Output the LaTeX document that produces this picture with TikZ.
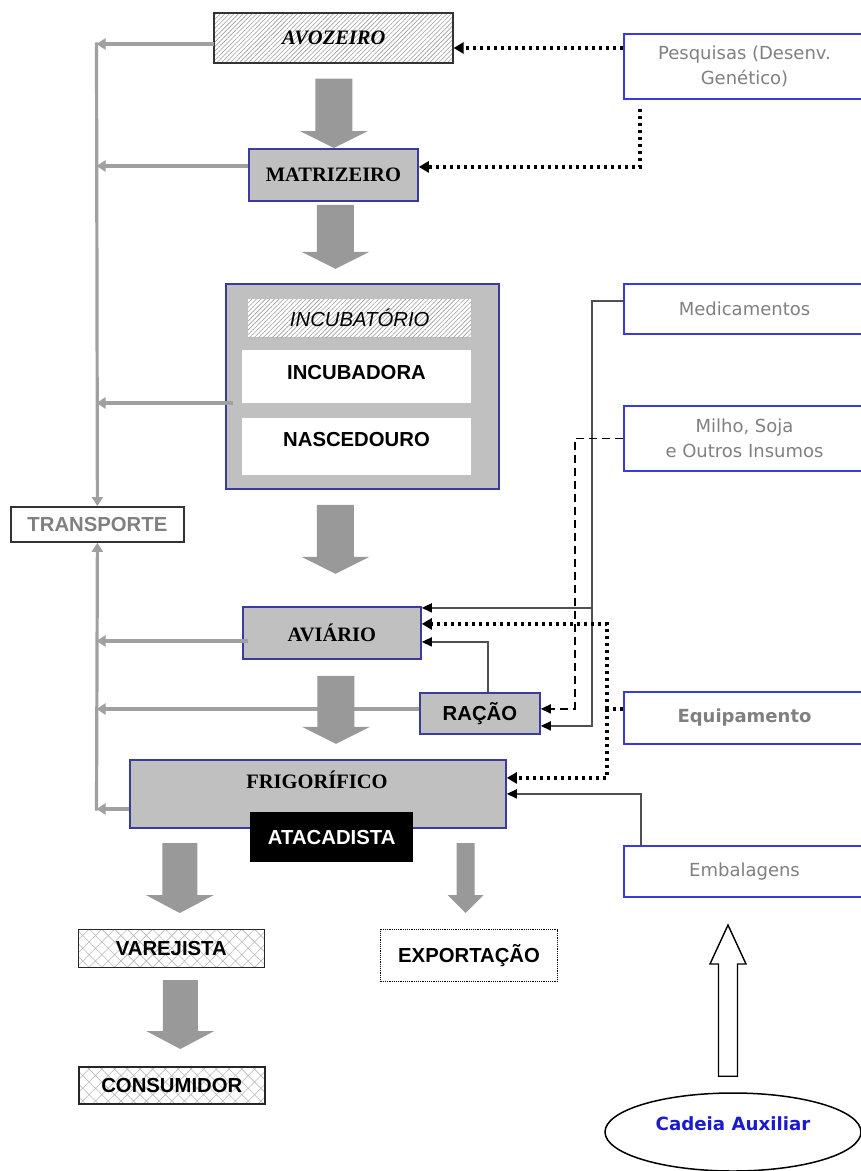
\documentclass[tikz,border=0pt]{standalone}
\usepackage{fontspec}
\setmainfont{Liberation Serif}
\newfontfamily\arialf{Liberation Sans}
\newfontfamily\tahomaf{DejaVu Sans}
\usetikzlibrary{arrows.meta,patterns,patterns.meta,shapes.geometric,calc}
\definecolor{boxgray}{HTML}{C0C0C0}
\definecolor{bigarrowgray}{HTML}{999999}
\definecolor{linegray}{HTML}{A0A0A0}
\definecolor{darkblue}{HTML}{3A3AA0}
\definecolor{brightblue}{HTML}{3A3ADC}
\definecolor{txtgray}{HTML}{808080}
\definecolor{connline}{HTML}{505050}
\definecolor{auxblue}{HTML}{1A1AD0}
% #1 start, #2 tip, #3 half shaft, #4 half head, #5 head length
\newcommand\blockarrow[5]{%
  \fill[bigarrowgray] let \p1=(#1), \p2=(#2) in
   (\x1-#3pt,\y1) -- (\x1-#3pt,\y2+#5pt) -- (\x1-#4pt,\y2+#5pt) -- (\x1,\y2)
   -- (\x1+#4pt,\y2+#5pt) -- (\x1+#3pt,\y2+#5pt) -- (\x1+#3pt,\y1) -- cycle;}
\begin{document}
\begin{tikzpicture}[x=1pt,y=-1pt,
  graybox/.style={draw=darkblue, fill=boxgray, line width=1.8pt, inner sep=0pt, anchor=north west},
  auxbox/.style={draw=brightblue, fill=white, line width=2pt, inner sep=0pt, anchor=north west,
     text=txtgray, font=\tahomaf\fontsize{18}{25}\selectfont, align=center},
  serifb/.style={font=\fontsize{20.5}{24}\selectfont\bfseries},
  sansb/.style={font=\arialf\fontsize{20.3}{24}\selectfont\bfseries},
  grayarrow/.style={draw=linegray, line width=3.2pt, -{Triangle[width=11pt,length=9pt]}},
  thinarrow/.style={draw=connline, line width=1.6pt, -{Triangle[width=9pt,length=10pt,color=black]}},
  dasharrow/.style={draw=black, line width=1.6pt, dash pattern=on 8pt off 5pt, -{Triangle[width=9pt,length=10pt]}},
  dotline/.style={draw=black, line width=3.2pt, dash pattern=on 3.2pt off 3.8pt},
  dotarrow/.style={dotline, -{Triangle[width=11pt,length=10pt]}},
  finehatch/.style={preaction={fill=white}, pattern={Lines[angle=45,distance=3.2pt,line width=0.6pt]}, pattern color=gray!75},
  crosshatch/.style={preaction={fill=white}, pattern={Hatch[angle=45,distance=9pt,line width=0.6pt]}, pattern color=gray!55}
]
\useasboundingbox (0,0) rectangle (861,1171);
\fill[white] (0,0) rectangle (861,1171);

% ---------- main chain boxes
\node[anchor=north west, draw=black!80, line width=1.8pt, finehatch, minimum width=239, minimum height=50, inner sep=0pt,
      font=\fontsize{20.5}{24}\selectfont\bfseries\itshape] (avo) at (214,13) {AVOZEIRO};
\node[graybox, serifb, minimum width=169, minimum height=52] (matr) at (248,148) {MATRIZEIRO};
\node[graybox, minimum width=273, minimum height=205] (incub) at (225,283) {};
\node[anchor=north west, finehatch, minimum width=223, minimum height=38, inner sep=0pt,
      font=\arialf\fontsize{20.3}{24}\selectfont\itshape] (incubt) at (248,299) {INCUBATÓRIO};
\node[anchor=north west, fill=white, minimum width=229, minimum height=53, inner sep=0pt] (incubd) at (242,350) {};
\node[sansb] (incubdt) at (356.5,373) {INCUBADORA};
\node[anchor=north west, fill=white, minimum width=229, minimum height=57, inner sep=0pt] (nasc) at (242,418) {};
\node[sansb] (nasct) at (356.5,440) {NASCEDOURO};
\node[anchor=north west, draw=black!80, line width=1.8pt, fill=white, minimum width=173, minimum height=35, inner sep=0pt,
      sansb, text=txtgray] (trans) at (10,506) {TRANSPORTE};
\node[graybox, serifb, minimum width=178, minimum height=52] (avi) at (242,606) {AVIÁRIO};
\node[graybox, sansb, minimum width=120, minimum height=41] (racao) at (419,692) {RAÇÃO};
\node[graybox, minimum width=376, minimum height=68] (frig) at (129,759) {};
\node[serifb] (frigt) at (317,780) {FRIGORÍFICO};
\node[anchor=north west, fill=black, text=white, sansb, minimum width=163, minimum height=50, inner sep=0pt] (atac) at (250,812) {ATACADISTA};
\node[anchor=north west, draw=black!85, line width=1.6pt, crosshatch, sansb, minimum width=186, minimum height=38, inner sep=0pt] (varej) at (78,929) {VAREJISTA};
\node[anchor=north west, draw=black!85, line width=1.6pt, crosshatch, sansb, minimum width=186, minimum height=37, inner sep=0pt] (consum) at (78,1066) {CONSUMIDOR};
\node[anchor=north west, draw=black, line width=1.1pt, dash pattern=on 1.2pt off 1pt, fill=white, sansb,
      minimum width=177, minimum height=52, inner sep=0pt] (export) at (380,929) {EXPORTAÇÃO};

% ---------- auxiliary chain boxes
\node[auxbox, minimum width=241, minimum height=65] (pesq) at (623,33) {Pesquisas (Desenv.\\Genético)};
\node[auxbox, minimum width=241, minimum height=50] (med) at (623,283) {Medicamentos};
\node[auxbox, minimum width=241, minimum height=65] (milho) at (623,405) {Milho, Soja\\e Outros Insumos};
\node[auxbox, minimum width=241, minimum height=52, font=\tahomaf\bfseries\fontsize{18}{22}\selectfont] (equip) at (623,691) {Equipamento};
\node[auxbox, minimum width=241, minimum height=51] (emb) at (623,845) {Embalagens};
\node[ellipse, draw=black, line width=1.5pt, fill=white, minimum width=256, minimum height=78, inner sep=0pt] (cad) at (733,1132) {};
\node[font=\tahomaf\bfseries\fontsize{18.2}{22}\selectfont, text=auxblue] (cadt) at (733,1124) {Cadeia Auxiliar};

% ---------- transport trunk
\coordinate (j1) at (96.5,44);
\coordinate (j2) at (96.5,166);
\coordinate (j3) at (96.5,403);
\coordinate (j4) at (96.5,641);
\coordinate (j5) at (96.5,709);
\coordinate (j6) at (96.5,809);
\draw[grayarrow] ($(j1)+(0,-1.6)$) -- (trans.north);
\draw[grayarrow] ($(j6)+(0,1.6)$) -- (trans.south);
\draw[grayarrow] (avo.west |- j1) -- (j1);
\draw[grayarrow] (matr.west |- j2) -- (j2);
\draw[grayarrow] ($(incub.west |- j3)+(8,0)$) -- (j3);
\draw[grayarrow] ($(avi.west |- j4)+(6,0)$) -- (j4);
\draw[grayarrow] (racao.west |- j5) -- (j5);
\draw[grayarrow] (frig.west |- j6) -- (j6);

% ---------- big flow arrows
\blockarrow{$(avo.south)+(0,15)$}{$(avo.south |- matr.north)$}{18.5}{34}{17}
\blockarrow{$(matr.south)+(2,3)$}{$(matr.south)+(2,67)$}{18.5}{34}{17}
\blockarrow{$(incub.south)+(-27,15)$}{$(incub.south)+(-27,84)$}{18.5}{34}{17}
\blockarrow{$(avi.south)+(4,16)$}{$(avi.south)+(4,84)$}{18.5}{34}{17}
\blockarrow{$(varej.north)+(8.5,-86)$}{$(varej.north)+(8.5,-16)$}{17.5}{34}{18}
\blockarrow{$(consum.north)+(8.5,-86)$}{$(consum.north)+(8.5,-17)$}{17.5}{34}{18}
\blockarrow{$(export.north)+(-3.5,-86)$}{$(export.north)+(-3.5,-16)$}{9}{18}{18}

% ---------- auxiliary connectors
\coordinate (pq1) at ($(pesq.west)+(0,-18.5)$);
\draw[dotarrow] (pq1) -- (avo.east |- pq1);
\draw[dotarrow] ($(pesq.south west)+(17,9)$) |- ($(matr.east)+(0,-8)$);

\draw[thinarrow] ($(med.west)+(0,-8)$) -| ($(racao.east)+(51,12.5)$) -- ($(racao.east)+(0,12.5)$);
\draw[thinarrow] ($(avi.east)+(170,-25)$) -- ($(avi.east)+(0,-25)$);
\draw[dasharrow] (milho.west) -| ($(racao.east)+(34,-4.5)$) -- ($(racao.east)+(0,-4.5)$);
\draw[thinarrow] ($(racao.north)+(8,0)$) |- ($(avi.east)+(0,9)$);

\coordinate (e0) at ($(equip.west)+(0,-9)$);
\coordinate (ev) at ($(e0)+(-16,0)$);
\draw[dotline] (e0) -- (ev);
\draw[dotarrow] (ev) |- ($(avi.east)+(0,-9)$);
\draw[dotarrow] (ev) |- ($(frig.east)+(0,-16)$);
\draw[thinarrow] ($(emb.north west)+(18,0)$) |- (frig.east);

% hollow arrow from Cadeia Auxiliar
\draw[fill=white, line width=1.4pt] let \p1=($(cad.north)+(-5,-16)$), \p2=($(emb.south)+(-14,27)$) in
  (\x1-9.5pt,\y1) -- (\x1-9.5pt,\y2-39pt) -- (\x1-18pt,\y2-39pt) -- (\x1,\y2)
  -- (\x1+18pt,\y2-39pt) -- (\x1+9.5pt,\y2-39pt) -- (\x1+9.5pt,\y1) -- cycle;
\end{tikzpicture}
\end{document}
